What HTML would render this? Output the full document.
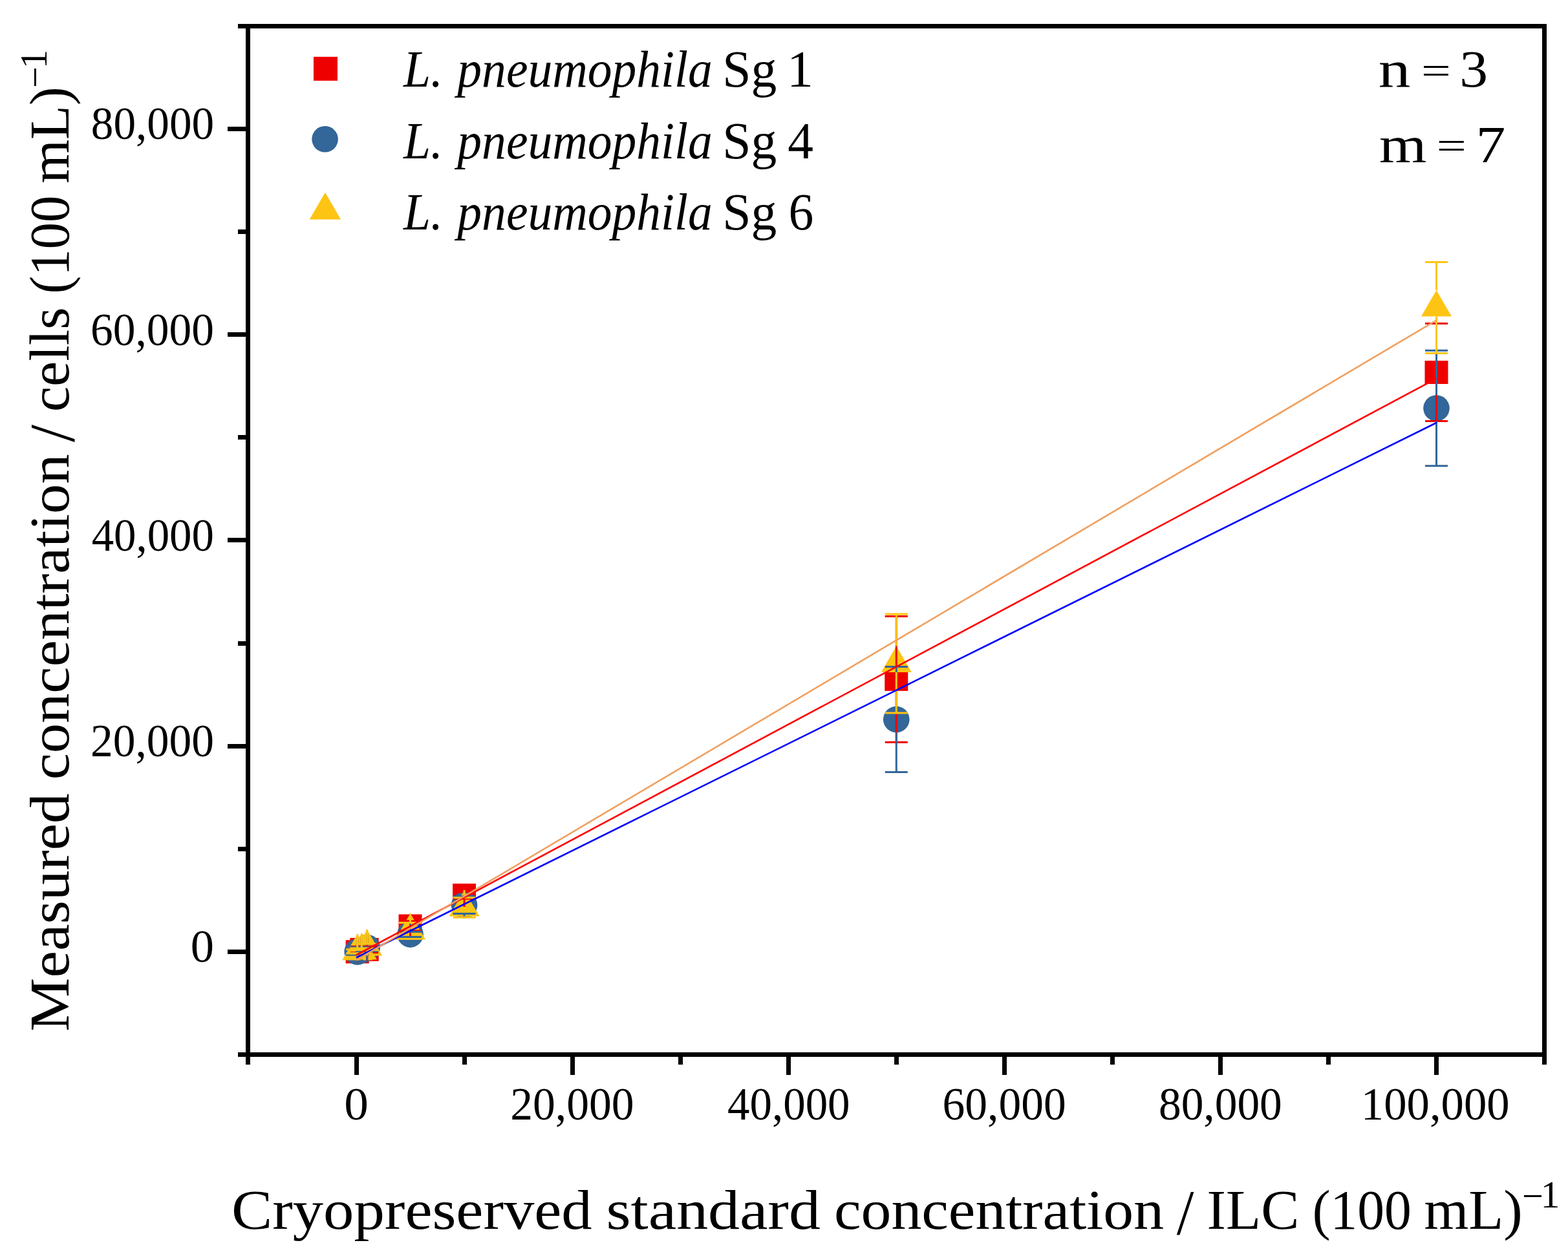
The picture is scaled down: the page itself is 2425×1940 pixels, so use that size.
<!DOCTYPE html><html><head><meta charset="utf-8"><title>Measured vs cryopreserved standard concentration</title>
<style>html,body{margin:0;padding:0;background:#fff;overflow:hidden;}svg{display:block;}text{font-family:"Liberation Serif",serif;fill:#000;}</style></head><body>
<svg width="2425" height="1940" viewBox="0 0 2425 1940">
<rect x="0" y="0" width="2425" height="1940" fill="#fff"/>
<g><rect x="534.67" y="1454.40" width="36.0" height="36.0" fill="#EE0000"/><rect x="541.35" y="1450.99" width="36.0" height="36.0" fill="#EE0000"/><rect x="549.71" y="1450.99" width="36.0" height="36.0" fill="#EE0000"/><rect x="616.52" y="1414.51" width="36.0" height="36.0" fill="#EE0000"/><rect x="700.05" y="1366.99" width="36.0" height="36.0" fill="#EE0000"/><rect x="1368.25" y="1032.89" width="36.0" height="36.0" fill="#EE0000"/><rect x="2203.50" y="558.00" width="36.0" height="36.0" fill="#EE0000"/><circle cx="552.67" cy="1472.40" r="20.3" fill="#336699"/><circle cx="559.35" cy="1470.01" r="20.3" fill="#336699"/><circle cx="567.71" cy="1466.04" r="20.3" fill="#336699"/><circle cx="634.52" cy="1445.40" r="20.3" fill="#336699"/><circle cx="718.05" cy="1400.30" r="20.3" fill="#336699"/><circle cx="1386.25" cy="1112.90" r="20.3" fill="#336699"/><circle cx="2221.50" cy="631.50" r="20.3" fill="#336699"/><polygon points="552.67,1444.92 576.17,1485.42 529.17,1485.42" fill="#FEC414"/><polygon points="559.35,1444.05 582.85,1484.55 535.85,1484.55" fill="#FEC414"/><polygon points="567.71,1437.92 591.21,1478.42 544.21,1478.42" fill="#FEC414"/><polygon points="634.52,1413.00 658.02,1453.50 611.02,1453.50" fill="#FEC414"/><polygon points="718.05,1376.99 741.55,1417.49 694.55,1417.49" fill="#FEC414"/><polygon points="1386.25,999.50 1409.75,1040.00 1362.75,1040.00" fill="#FEC414"/><polygon points="2221.50,449.01 2245.00,489.51 2198.00,489.51" fill="#FEC414"/><path d="M552.67,1454.40V1468.42M552.67,1490.40V1476.38M535.17,1468.42H570.17M535.17,1476.38H570.17" stroke="#EE0000" stroke-width="3.0" fill="none"/><path d="M559.35,1450.99V1464.22M559.35,1486.99V1473.77M541.85,1464.22H576.85M541.85,1473.77H576.85" stroke="#EE0000" stroke-width="3.0" fill="none"/><path d="M567.71,1450.99V1464.22M567.71,1486.99V1473.77M550.21,1464.22H585.21M550.21,1473.77H585.21" stroke="#EE0000" stroke-width="3.0" fill="none"/><path d="M634.52,1414.51V1425.01M634.52,1450.51V1440.00M617.02,1425.01H652.02M617.02,1440.00H652.02" stroke="#EE0000" stroke-width="3.0" fill="none"/><path d="M718.05,1366.99V1379.69M718.05,1402.99V1390.29M700.55,1379.69H735.55M700.55,1390.29H735.55" stroke="#EE0000" stroke-width="3.0" fill="none"/><path d="M1386.25,1032.89V953.49M1386.25,1068.89V1148.29M1368.75,953.49H1403.75M1368.75,1148.29H1403.75" stroke="#EE0000" stroke-width="3.0" fill="none"/><path d="M2221.50,558.00V500.56M2221.50,594.00V651.44M2204.00,500.56H2239.00M2204.00,651.44H2239.00" stroke="#EE0000" stroke-width="3.0" fill="none"/><path d="M552.67,1452.10V1467.63M552.67,1492.70V1477.17M535.17,1467.63H570.17M535.17,1477.17H570.17" stroke="#336699" stroke-width="3.0" fill="none"/><path d="M559.35,1449.71V1465.24M559.35,1490.31V1474.79M541.85,1465.24H576.85M541.85,1474.79H576.85" stroke="#336699" stroke-width="3.0" fill="none"/><path d="M567.71,1445.74V1460.47M567.71,1486.34V1471.60M550.21,1460.47H585.21M550.21,1471.60H585.21" stroke="#336699" stroke-width="3.0" fill="none"/><path d="M634.52,1425.10V1441.40M634.52,1465.70V1449.39M617.02,1441.40H652.02M617.02,1449.39H652.02" stroke="#336699" stroke-width="3.0" fill="none"/><path d="M718.05,1380.00V1387.09M718.05,1420.60V1413.51M700.55,1387.09H735.55M700.55,1413.51H735.55" stroke="#336699" stroke-width="3.0" fill="none"/><path d="M1386.25,1092.60V1031.40M1386.25,1133.20V1194.41M1368.75,1031.40H1403.75M1368.75,1194.41H1403.75" stroke="#336699" stroke-width="3.0" fill="none"/><path d="M2221.50,611.20V542.16M2221.50,651.80V720.85M2204.00,542.16H2239.00M2204.00,720.85H2239.00" stroke="#336699" stroke-width="3.0" fill="none"/><path d="M552.67,1444.92V1468.74M552.67,1485.42V1475.11M535.17,1468.74H570.17M535.17,1475.11H570.17" stroke="#FEC414" stroke-width="3.0" fill="none"/><path d="M559.35,1444.05V1467.07M559.35,1484.55V1475.03M541.85,1467.07H576.85M541.85,1475.03H576.85" stroke="#FEC414" stroke-width="3.0" fill="none"/><path d="M567.71,1437.92V1460.15M567.71,1478.42V1469.69M550.21,1460.15H585.21M550.21,1469.69H585.21" stroke="#FEC414" stroke-width="3.0" fill="none"/><path d="M634.52,1413.00V1427.49M634.52,1453.50V1452.51M617.02,1427.49H652.02M617.02,1452.51H652.02" stroke="#FEC414" stroke-width="3.0" fill="none"/><path d="M718.05,1376.99V1388.68M718.05,1417.49V1419.30M700.55,1388.68H735.55M700.55,1419.30H735.55" stroke="#FEC414" stroke-width="3.0" fill="none"/><path d="M1386.25,999.50V950.01M1386.25,1040.00V1102.99M1368.75,950.01H1403.75M1368.75,1102.99H1403.75" stroke="#FEC414" stroke-width="3.0" fill="none"/><path d="M2221.50,449.01V405.56M2221.50,489.51V546.45M2204.00,405.56H2239.00M2204.00,546.45H2239.00" stroke="#FEC414" stroke-width="3.0" fill="none"/><line x1="551.00" y1="1477.5" x2="2221.50" y2="585.6" stroke="#FF0000" stroke-width="2.6"/><line x1="551.00" y1="1481.5" x2="2221.50" y2="654.0" stroke="#0000FF" stroke-width="2.6"/><line x1="551.00" y1="1485.5" x2="2221.50" y2="495.5" stroke="#F0A060" stroke-width="2.6"/></g>
<g fill="#000" shape-rendering="crispEdges"><rect x="367.7" y="36.8" width="2024.2" height="7.0"/><rect x="380.0" y="36.8" width="7.0" height="1610.0"/><rect x="367.7" y="1628.1" width="2024.2" height="7.0"/><rect x="2384.9" y="36.8" width="7.0" height="1610.0"/><rect x="352.0" y="1468.9" width="28.0" height="7.0"/><rect x="352.0" y="1150.7" width="28.0" height="7.0"/><rect x="352.0" y="832.4" width="28.0" height="7.0"/><rect x="352.0" y="514.2" width="28.0" height="7.0"/><rect x="352.0" y="195.9" width="28.0" height="7.0"/><rect x="367.7" y="1309.8" width="12.3" height="7.0"/><rect x="367.7" y="991.5" width="12.3" height="7.0"/><rect x="367.7" y="673.3" width="12.3" height="7.0"/><rect x="367.7" y="355.0" width="12.3" height="7.0"/><rect x="548.0" y="1635.0" width="7.0" height="28.0"/><rect x="882.0" y="1635.0" width="7.0" height="28.0"/><rect x="1216.0" y="1635.0" width="7.0" height="28.0"/><rect x="1550.0" y="1635.0" width="7.0" height="28.0"/><rect x="1884.0" y="1635.0" width="7.0" height="28.0"/><rect x="2218.0" y="1635.0" width="7.0" height="28.0"/><rect x="715.0" y="1635.0" width="7.0" height="12.0"/><rect x="1049.0" y="1635.0" width="7.0" height="12.0"/><rect x="1383.0" y="1635.0" width="7.0" height="12.0"/><rect x="1717.0" y="1635.0" width="7.0" height="12.0"/><rect x="2051.0" y="1635.0" width="7.0" height="12.0"/></g>
<rect x="484.95" y="87.85" width="37" height="37" fill="#EE0000"/><circle cx="502.6" cy="215.3" r="20.3" fill="#336699"/><polygon points="502.9,297.8 527.1,339.5 478.7,339.5" fill="#FEC414"/>
<text x="294.84" y="1488.30" font-size="72" textLength="36.22" lengthAdjust="spacingAndGlyphs">0</text>
<text x="139.95" y="1170.05" font-size="72" textLength="191.00" lengthAdjust="spacingAndGlyphs">20,000</text>
<text x="141.66" y="851.80" font-size="72" textLength="189.27" lengthAdjust="spacingAndGlyphs">40,000</text>
<text x="140.02" y="533.55" font-size="72" textLength="190.93" lengthAdjust="spacingAndGlyphs">60,000</text>
<text x="140.87" y="215.30" font-size="72" textLength="190.17" lengthAdjust="spacingAndGlyphs">80,000</text>
<text x="532.18" y="1732.30" font-size="72" textLength="37.63" lengthAdjust="spacingAndGlyphs">0</text>
<text x="789.29" y="1732.30" font-size="72" textLength="191.20" lengthAdjust="spacingAndGlyphs">20,000</text>
<text x="1125.10" y="1732.30" font-size="72" textLength="189.47" lengthAdjust="spacingAndGlyphs">40,000</text>
<text x="1457.56" y="1732.30" font-size="72" textLength="191.13" lengthAdjust="spacingAndGlyphs">60,000</text>
<text x="1792.01" y="1732.30" font-size="72" textLength="190.78" lengthAdjust="spacingAndGlyphs">80,000</text>
<text x="2104.78" y="1732.30" font-size="72" textLength="229.91" lengthAdjust="spacingAndGlyphs">100,000</text>
<text x="624.09" y="134.40" font-size="80" font-style="italic" textLength="60.94" lengthAdjust="spacingAndGlyphs">L.</text>
<text x="707.33" y="134.40" font-size="80" font-style="italic" textLength="394.51" lengthAdjust="spacingAndGlyphs">pneumophila</text>
<text x="1117.28" y="134.40" font-size="80" textLength="84.04" lengthAdjust="spacingAndGlyphs">Sg</text>
<text x="1217.01" y="134.40" font-size="80" textLength="40.90" lengthAdjust="spacingAndGlyphs">1</text>
<text x="624.09" y="244.50" font-size="80" font-style="italic" textLength="60.94" lengthAdjust="spacingAndGlyphs">L.</text>
<text x="707.33" y="244.50" font-size="80" font-style="italic" textLength="394.51" lengthAdjust="spacingAndGlyphs">pneumophila</text>
<text x="1117.28" y="244.50" font-size="80" textLength="84.04" lengthAdjust="spacingAndGlyphs">Sg</text>
<text x="1218.25" y="244.50" font-size="80" textLength="39.69" lengthAdjust="spacingAndGlyphs">4</text>
<text x="624.09" y="354.80" font-size="80" font-style="italic" textLength="60.94" lengthAdjust="spacingAndGlyphs">L.</text>
<text x="707.33" y="354.80" font-size="80" font-style="italic" textLength="394.51" lengthAdjust="spacingAndGlyphs">pneumophila</text>
<text x="1117.28" y="354.80" font-size="80" textLength="84.04" lengthAdjust="spacingAndGlyphs">Sg</text>
<text x="1219.57" y="354.80" font-size="80" textLength="38.74" lengthAdjust="spacingAndGlyphs">6</text>
<text x="2131.82" y="134.40" font-size="81" textLength="49.68" lengthAdjust="spacingAndGlyphs">n</text>
<text x="2197.95" y="134.40" font-size="81" transform="matrix(1,0,0,0.7610,0,27.963)" textLength="45.81" lengthAdjust="spacingAndGlyphs">=</text>
<text x="2257.21" y="134.40" font-size="81" textLength="43.82" lengthAdjust="spacingAndGlyphs">3</text>
<text x="2133.12" y="250.60" font-size="81" textLength="73.35" lengthAdjust="spacingAndGlyphs">m</text>
<text x="2221.83" y="250.60" font-size="81" transform="matrix(1,0,0,0.7610,0,55.735)" textLength="46.05" lengthAdjust="spacingAndGlyphs">=</text>
<text x="2282.45" y="250.60" font-size="81" textLength="45.89" lengthAdjust="spacingAndGlyphs">7</text>
<text x="358.01" y="1900.80" font-size="87" textLength="557.74" lengthAdjust="spacingAndGlyphs">Cryopreserved</text>
<text x="937.59" y="1900.80" font-size="87" textLength="331.20" lengthAdjust="spacingAndGlyphs">standard</text>
<text x="1289.93" y="1900.80" font-size="87" textLength="510.09" lengthAdjust="spacingAndGlyphs">concentration</text>
<text x="1819.70" y="1900.80" font-size="87" transform="matrix(1,0,0,1.1350,0,-248.697)" textLength="26.70" lengthAdjust="spacingAndGlyphs">/</text>
<text x="1866.60" y="1900.80" font-size="87" textLength="142.79" lengthAdjust="spacingAndGlyphs">ILC</text>
<text x="2029.63" y="1900.80" font-size="87" textLength="153.26" lengthAdjust="spacingAndGlyphs">(100</text>
<text x="2202.44" y="1900.80" font-size="87" textLength="152.24" lengthAdjust="spacingAndGlyphs">mL)</text>
<text x="2354.00" y="1869.80" font-size="59.5" textLength="32.84" lengthAdjust="spacingAndGlyphs">−</text>
<text x="2382.51" y="1868.00" font-size="59.5" textLength="30.11" lengthAdjust="spacingAndGlyphs">1</text>
<g transform="rotate(-90)"><text x="-1595.69" y="106.00" font-size="87" textLength="368.53" lengthAdjust="spacingAndGlyphs">Measured</text><text x="-1206.33" y="106.00" font-size="87" textLength="503.83" lengthAdjust="spacingAndGlyphs">concentration</text><text x="-683.90" y="106.00" font-size="87" transform="matrix(1,0,0,1.1350,0,-6.210)" textLength="27.00" lengthAdjust="spacingAndGlyphs">/</text><text x="-637.06" y="106.00" font-size="87" textLength="161.54" lengthAdjust="spacingAndGlyphs">cells</text><text x="-454.44" y="106.00" font-size="87" textLength="151.79" lengthAdjust="spacingAndGlyphs">(100</text><text x="-283.62" y="106.00" font-size="87" textLength="149.44" lengthAdjust="spacingAndGlyphs">mL)</text><text x="-135.90" y="73.70" font-size="59.5" textLength="32.84" lengthAdjust="spacingAndGlyphs">−</text><text x="-106.19" y="71.70" font-size="59.5" textLength="29.54" lengthAdjust="spacingAndGlyphs">1</text></g>
</svg></body></html>
